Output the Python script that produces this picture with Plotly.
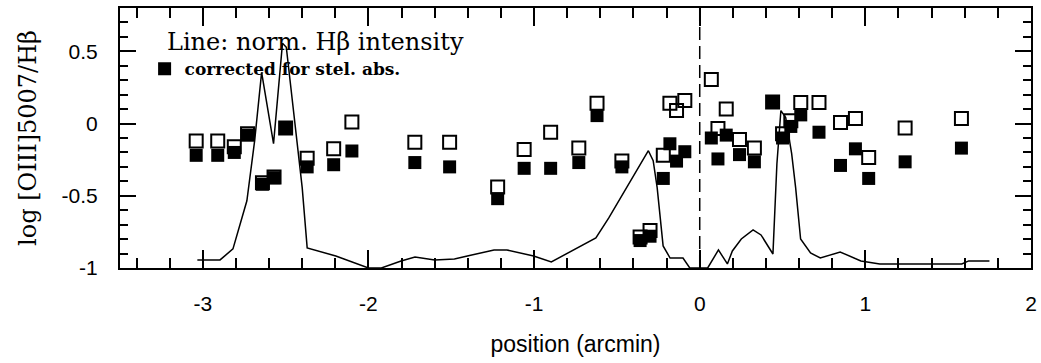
import plotly.graph_objects as go

# Marker positions (arcmin) and log [OIII]5007/Hbeta values
positions = [-3.04, -2.91, -2.81, -2.73, -2.64, -2.57, -2.50, -2.37, -2.21, -2.10,
             -1.72, -1.51, -1.22, -1.06, -0.90, -0.73, -0.62, -0.47, -0.36, -0.30,
             -0.22, -0.18, -0.14, -0.09, 0.07, 0.11, 0.16, 0.24, 0.33, 0.44,
             0.50, 0.55, 0.61, 0.72, 0.85, 0.94, 1.02, 1.24, 1.58]
uncorrected = [-0.12, -0.12, -0.16, -0.07, -0.41, -0.37, -0.03, -0.24, -0.175, 0.01,
               -0.13, -0.13, -0.44, -0.18, -0.06, -0.17, 0.14, -0.26, -0.785, -0.74,
               -0.22, 0.14, 0.09, 0.16, 0.305, -0.035, 0.10, -0.11, -0.17, 0.15,
               -0.07, 0.02, 0.145, 0.145, 0.007, 0.035, -0.235, -0.03, 0.035]
corrected = [-0.22, -0.22, -0.20, -0.08, -0.42, -0.375, -0.03, -0.30, -0.285, -0.19,
             -0.27, -0.30, -0.52, -0.31, -0.31, -0.27, 0.055, -0.30, -0.81, -0.78,
             -0.38, -0.14, -0.26, -0.195, -0.10, -0.245, -0.08, -0.215, -0.265, 0.15,
             -0.10, -0.02, 0.06, -0.06, -0.29, -0.175, -0.38, -0.265, -0.17]

# Normalised H-beta intensity profile (scaled into plot units)
line_x = [-3.033, -2.896, -2.818, -2.734, -2.687, -2.645, -2.573, -2.519, -2.496, -2.400,
          -2.370, -2.197, -2.000, -1.922, -1.803, -1.719, -1.600, -1.481, -1.403, -1.242,
          -1.164, -1.003, -0.896, -0.806, -0.627, -0.549, -0.310, -0.281, -0.257, -0.221,
          -0.179, -0.101, -0.060, 0.048, 0.113, 0.167, 0.197, 0.251, 0.322, 0.370,
          0.442, 0.466, 0.490, 0.519, 0.555, 0.579, 0.609, 0.669, 0.728, 0.848,
          0.973, 1.087, 1.582, 1.624, 1.749]
line_y = [-0.944, -0.944, -0.868, -0.535, -0.118, 0.354, -0.139, 0.556, 0.528, -0.444,
          -0.861, -0.917, -1.0, -1.0, -0.951, -0.924, -0.944, -0.938, -0.917, -0.875,
          -0.875, -0.917, -0.958, -0.903, -0.792, -0.653, -0.188, -0.257, -0.444, -0.847,
          -0.931, -0.931, -1.0, -1.0, -0.875, -0.972, -0.882, -0.799, -0.736, -0.771,
          -0.903, -0.278, 0.090, 0.042, -0.208, -0.444, -0.799, -0.896, -0.931, -0.889,
          -0.951, -0.972, -0.972, -0.951, -0.951]

x_tickvals = [-3, -2, -1, 0, 1, 2]
x_ticktext = ["-3", "-2", "-1", "0", "1", "2"]
y_tickvals = [-1, -0.5, 0, 0.5]
y_ticktext = ["-1", "-0.5", "0", "0.5"]

fig = go.Figure()

fig.add_trace(go.Scatter(
    x=line_x, y=line_y, mode="lines",
    line=dict(color="black", width=1.5),
    showlegend=False, hoverinfo="skip"))

fig.add_trace(go.Scatter(
    x=positions, y=uncorrected, mode="markers",
    marker=dict(symbol="square-open", size=13, color="black", line=dict(width=2, color="black")),
    showlegend=False))

fig.add_trace(go.Scatter(
    x=positions, y=corrected, mode="markers", name="corrected for stel. abs.",
    marker=dict(symbol="square", size=13, color="black", line=dict(width=0)),
    showlegend=True))

fig.add_shape(type="line", xref="x", yref="paper", x0=0, x1=0, y0=0, y1=1,
              line=dict(color="black", width=1.5, dash="13px,6px"))

fig.add_annotation(
    text="Line: norm. Hβ intensity", xref="paper", yref="paper",
    x=0.049, y=0.869, xanchor="left", yanchor="middle", showarrow=False,
    font=dict(family="DejaVu Serif", size=24, color="black"))

axis_common = dict(
    showline=True, linecolor="black", linewidth=2, mirror="ticks",
    ticks="inside", tickcolor="black", tickwidth=1.5,
    showgrid=False, zeroline=False,
    tickfont=dict(family="Liberation Sans", size=21, color="black"),
)

fig.update_xaxes(
    range=[-3.5, 2], tickvals=x_tickvals, ticktext=x_ticktext, ticklen=18,
    minor=dict(dtick=0.2, tick0=0, ticks="inside", ticklen=10, tickcolor="black", tickwidth=1.5),
    ticklabelstandoff=16,
    title=dict(text="position (arcmin)", font=dict(family="Liberation Sans", size=23, color="black"),
               standoff=22),
    **axis_common)

fig.update_yaxes(
    range=[-1, 0.8], tickvals=y_tickvals, ticktext=y_ticktext, ticklen=16,
    minor=dict(dtick=0.1, tick0=0, ticks="inside", ticklen=8, tickcolor="black", tickwidth=1.5),
    ticklabelstandoff=16,
    title=dict(text="log [OIII]5007/Hβ", font=dict(family="DejaVu Serif", size=24, color="black"),
               standoff=18),
    **axis_common)

fig.update_layout(
    width=1041, height=363,
    margin=dict(l=120, r=4, t=8, b=95),
    paper_bgcolor="white", plot_bgcolor="white",
    showlegend=True,
    legend=dict(
        x=0.027, y=0.834, xanchor="left", yanchor="top",
        bgcolor="rgba(0,0,0,0)", borderwidth=0,
        font=dict(family="DejaVu Serif", size=17, color="black", weight="bold"),
        itemsizing="trace",
    ),
)

fig.write_html("out.html")
